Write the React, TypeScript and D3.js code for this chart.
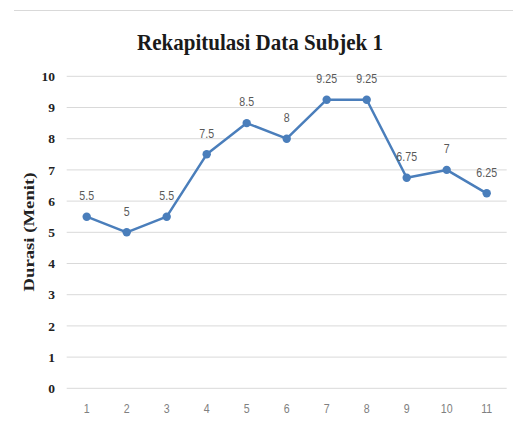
import React from "react";
import * as d3 from "d3";

const categories = ["1", "2", "3", "4", "5", "6", "7", "8", "9", "10", "11"];
const values = [5.5, 5, 5.5, 7.5, 8.5, 8, 9.25, 9.25, 6.75, 7, 6.25];
const yTicks = [0, 1, 2, 3, 4, 5, 6, 7, 8, 9, 10];
const title = "Rekapitulasi Data Subjek 1";
const yLabel = "Durasi (Menit)";

const W = 513;
const H = 426;
const left = 66.7;
const right = 506.7;
const top = 76.3;
const bottom = 388.3;

export default function App() {
  const x = d3.scaleBand<string>().domain(categories).range([left, right]);
  const y = d3.scaleLinear().domain([0, 10]).range([bottom, top]);
  const line = d3
    .line<number>()
    .x((_, i) => (x(categories[i]) as number) + x.bandwidth() / 2)
    .y((d) => y(d));
  const blue = "#4A7EBB";
  const labelFont = "'Liberation Sans Narrow', 'Liberation Sans', Arial, sans-serif";
  const serif = "'Liberation Serif', 'DejaVu Serif', serif";

  return (
    <svg
      width={W}
      height={H}
      style={{ position: "absolute", left: 0, top: 0, background: "#fff" }}
    >
      <line x1={14} x2={W} y1={10.5} y2={10.5} stroke="#d9d9d9" strokeWidth={1} />
      <text
        x={260}
        y={50}
        textAnchor="middle"
        fontFamily={serif}
        fontWeight="bold"
        fontSize={23}
        fill="#1a1a1a"
        textLength={246}
        lengthAdjust="spacingAndGlyphs"
      >
        {title}
      </text>
      {yTicks.map((t) => (
        <g key={t}>
          <line x1={left} x2={right} y1={y(t)} y2={y(t)} stroke="#d9d9d9" strokeWidth={1} />
          <text
            x={55}
            y={y(t)}
            dy="0.35em"
            textAnchor="end"
            fontFamily={serif}
            fontWeight="bold"
            fontSize={13.5}
            fill="#222"
          >
            {t}
          </text>
        </g>
      ))}
      <text
        transform={`translate(34,232) rotate(-90)`}
        textAnchor="middle"
        fontFamily={serif}
        fontWeight="bold"
        fontSize={15}
        fill="#222"
        textLength={119}
        lengthAdjust="spacingAndGlyphs"
      >
        {yLabel}
      </text>
      {categories.map((c) => {
        const cx = (x(c) as number) + x.bandwidth() / 2;
        return (
          <text
            key={c}
            transform={`translate(${cx},409) scale(0.85,1)`}
            dy="0.35em"
            textAnchor="middle"
            fontFamily={labelFont}
            fontSize={12.5}
            fill="#808080"
          >
            {c}
          </text>
        );
      })}
      <path d={line(values) || ""} fill="none" stroke={blue} strokeWidth={2.5} strokeLinejoin="round" />
      {values.map((v, i) => {
        const cx = (x(categories[i]) as number) + x.bandwidth() / 2;
        return (
          <g key={i}>
            <circle cx={cx} cy={y(v)} r={4.2} fill={blue} />
            <text
              transform={`translate(${cx},${y(v) - 21}) scale(0.85,1)`}
              dy="0.35em"
              textAnchor="middle"
              fontFamily={labelFont}
              fontSize={12.5}
              fill="#595959"
            >
              {String(v)}
            </text>
          </g>
        );
      })}
    </svg>
  );
}
